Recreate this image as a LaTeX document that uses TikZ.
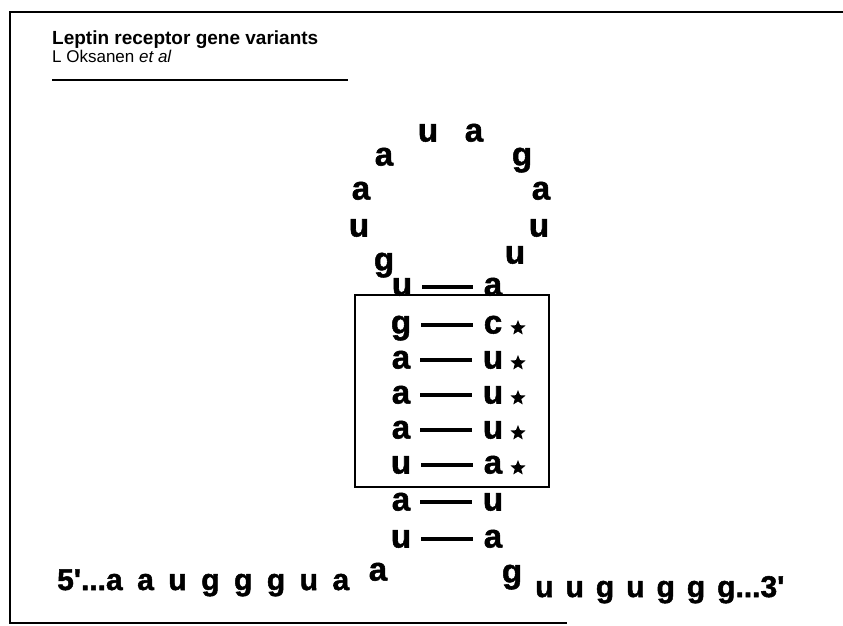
\documentclass[tikz,border=0pt]{standalone}
\usepackage{fontspec}
\setmainfont{Liberation Sans}
\newfontfamily\ntfont{Liberation Sans}[BoldFeatures={FakeBold=1.6}]
\usetikzlibrary{shapes.geometric}
\tikzset{
  nt/.style={inner sep=0pt, text height=17pt, text depth=0pt, font=\ntfont\fontsize{33}{33}\selectfont\bfseries},
  seq/.style={inner sep=0pt, text height=16pt, text depth=0pt, anchor=west, font=\ntfont\fontsize{30}{30}\selectfont\bfseries},
  bond/.style={line width=3.8pt, shorten <=10pt, shorten >=11pt},
  mark5/.style={star, star points=5, star point ratio=2.3, fill=black, draw=none, minimum size=16pt, inner sep=0pt},
  frame/.style={line width=2pt},
  boxline/.style={line width=1.8pt}
}
\begin{document}
\begin{tikzpicture}[x=1pt,y=-1pt]
\useasboundingbox (0,0) rectangle (843,625);
% outer frame
\draw[frame] (843,12) -- (10,12) -- (10,623) -- (567,623);
% title
\node[anchor=base west, inner sep=0pt, font=\fontsize{19}{19}\selectfont\bfseries] (title) at (52,44) {Leptin receptor gene variants};
\node[anchor=base west, inner sep=0pt, font=\fontsize{17}{17}\selectfont] (author) at (52,62) {L Oksanen \textit{et al}};
\draw[line width=1.8pt] (52,80) -- (348,80);
% loop
\node[nt] (l1) at (428,133) {u};
\node[nt] (l2) at (474,133) {a};
\node[nt] (l3) at (384,157) {a};
\node[nt] (l4) at (522,157) {g};
\node[nt] (l5) at (361,191) {a};
\node[nt] (l6) at (541,191) {a};
\node[nt] (l7) at (359,228) {u};
\node[nt] (l8) at (539,228) {u};
\node[nt] (l9) at (384,262) {g};
\node[nt] (l10) at (515,255) {u};
% box
\draw[boxline] (355,295) rectangle (549,487);
% stem pairs
\node[nt] (a1) at (402,287) {u}; \node[nt] (b1) at (493,287) {a};
\node[nt] (a2) at (401,325) {g}; \node[nt] (b2) at (493,325) {c};
\node[nt] (a3) at (401,360) {a}; \node[nt] (b3) at (493,360) {u};
\node[nt] (a4) at (401,395) {a}; \node[nt] (b4) at (493,395) {u};
\node[nt] (a5) at (401,430) {a}; \node[nt] (b5) at (493,430) {u};
\node[nt] (a6) at (401,465) {u}; \node[nt] (b6) at (493,465) {a};
\node[nt] (a7) at (401,502) {a}; \node[nt] (b7) at (493,502) {u};
\node[nt] (a8) at (401,539) {u}; \node[nt] (b8) at (493,539) {a};
\foreach \i in {1,...,8} { \draw[bond] (a\i) -- (b\i); }
% stars
\node[mark5] (s2) at (518,328) {};
\node[mark5] (s3) at (518,363) {};
\node[mark5] (s4) at (518,398) {};
\node[mark5] (s5) at (518,433) {};
\node[mark5] (s6) at (518,468) {};
% bulge
\node[nt] (m1) at (378,572) {a};
\node[nt] (m2) at (512,574) {g};
% flanking sequences
\node[seq] (five) at (57,582) {\spaceskip=14.5pt\relax 5'...a a u g g g u a};
\node[seq] (three) at (535,589) {\spaceskip=12pt\relax u u g u g g g...3'};
\end{tikzpicture}
\end{document}
